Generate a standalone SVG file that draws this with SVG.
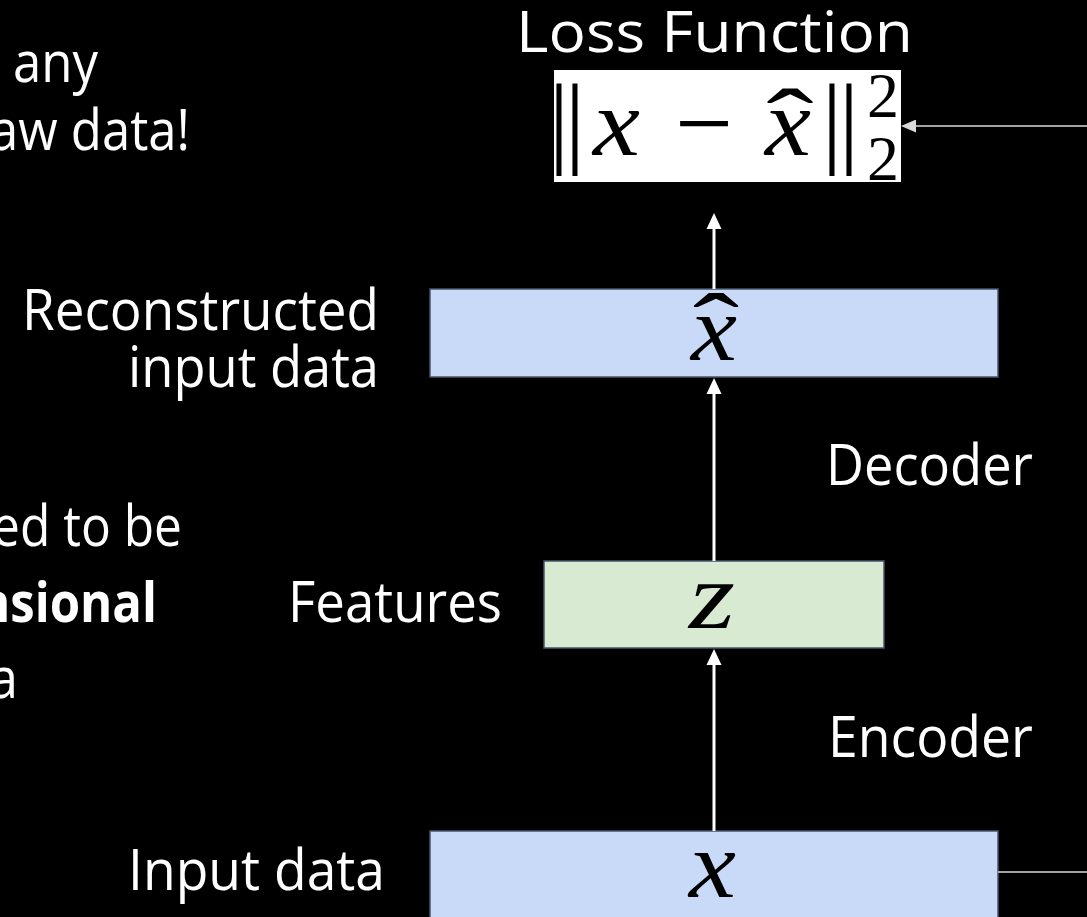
<svg xmlns="http://www.w3.org/2000/svg" width="1087" height="917" viewBox="0 0 1087 917">
  <defs>
    <style>
      .lbl { font-family: "Open Sans", "Liberation Sans", sans-serif; font-size: 56px; fill: #ffffff; }
      .bold { font-weight: bold; }
      .math { font-family: "Liberation Serif", "DejaVu Serif", serif; font-style: italic; fill: #000000; }
      .mrm { font-family: "Liberation Serif", "DejaVu Serif", serif; fill: #000000; }
      .box { stroke: #46556b; stroke-width: 1.5; }
      .blue { fill: #c9daf8; }
      .green { fill: #d9ead3; }
      .flow { stroke: #ffffff; stroke-width: 3; fill: none; }
      .thin { stroke: #d9d9d9; stroke-width: 1.5; fill: none; }
    </style>
    <marker id="head" markerUnits="userSpaceOnUse" markerWidth="16" markerHeight="16" refX="0" refY="8" orient="auto">
      <path d="M0,0.5 L16,8 L0,15.5 z" fill="#ffffff"/>
    </marker>
    <marker id="headThin" markerUnits="userSpaceOnUse" markerWidth="15" markerHeight="13" refX="0" refY="6.5" orient="auto">
      <path d="M0,0 L15,6.5 L0,13 z" fill="#d9d9d9"/>
    </marker>
    <clipPath id="formulaClip">
      <rect x="554" y="70" width="347" height="112"/>
    </clipPath>
  </defs>

  <rect width="1087" height="917" fill="#000000"/>

  <!-- side notes running off the left edge -->
  <g id="side-notes">
    <text class="lbl" x="13" y="82" textLength="85" lengthAdjust="spacingAndGlyphs">any</text>
    <text class="lbl" x="190" y="150" text-anchor="end" textLength="200" lengthAdjust="spacingAndGlyphs">aw data!</text>
    <text class="lbl" x="182" y="546" text-anchor="end" textLength="190" lengthAdjust="spacingAndGlyphs">ed to be</text>
    <text class="lbl bold" x="157" y="622" text-anchor="end" textLength="179" lengthAdjust="spacingAndGlyphs">nsional</text>
    <text class="lbl" x="18" y="698" text-anchor="end" textLength="29" lengthAdjust="spacingAndGlyphs">a</text>
  </g>

  <!-- loss function -->
  <g id="loss">
    <text class="lbl" x="516" y="52" font-size="63" textLength="397" lengthAdjust="spacingAndGlyphs">Loss Function</text>
    <rect x="554" y="70" width="347" height="112" fill="#ffffff"/>
    <g clip-path="url(#formulaClip)">
      <text class="mrm" x="559" y="154" font-size="102" text-anchor="middle">|</text>
      <text class="mrm" x="575" y="154" font-size="102" text-anchor="middle">|</text>
      <text class="math" x="593" y="155" font-size="95" textLength="47" lengthAdjust="spacingAndGlyphs">x</text>
      <text class="mrm" x="704" y="158" font-size="103" text-anchor="middle" textLength="58" lengthAdjust="spacingAndGlyphs">−</text>
      <text class="math" x="765" y="155" font-size="95" textLength="46" lengthAdjust="spacingAndGlyphs">x</text>
      <text class="mrm" transform="translate(790,155) scale(1.5,1)" font-size="95" text-anchor="middle">ˆ</text>
      <text class="mrm" x="832" y="154" font-size="102" text-anchor="middle">|</text>
      <text class="mrm" x="849" y="154" font-size="102" text-anchor="middle">|</text>
      <text class="mrm" x="883" y="117" font-size="64" text-anchor="middle">2</text>
      <text class="mrm" x="883" y="180" font-size="64" text-anchor="middle">2</text>
    </g>
  </g>

  <!-- reconstruction layer -->
  <g id="reconstructed">
    <rect class="box blue" x="430" y="289" width="568" height="88"/>
    <text class="math" x="691" y="360" font-size="93" textLength="46" lengthAdjust="spacingAndGlyphs">x</text>
    <text class="mrm" transform="translate(716,358) scale(1.5,1)" font-size="93" text-anchor="middle">ˆ</text>
    <text class="lbl" x="22" y="330" textLength="357" lengthAdjust="spacingAndGlyphs">Reconstructed</text>
    <text class="lbl" x="128" y="387" textLength="251" lengthAdjust="spacingAndGlyphs">input data</text>
  </g>

  <!-- latent features -->
  <g id="features">
    <rect class="box green" x="544" y="561" width="340" height="87"/>
    <text class="math" x="689" y="628" font-size="95" textLength="46" lengthAdjust="spacingAndGlyphs">z</text>
    <text class="lbl" x="288" y="622" textLength="214" lengthAdjust="spacingAndGlyphs">Features</text>
  </g>

  <!-- input layer -->
  <g id="input">
    <rect class="box blue" x="430" y="831" width="568" height="100"/>
    <text class="math" x="689" y="897" font-size="95" textLength="47" lengthAdjust="spacingAndGlyphs">x</text>
    <text class="lbl" x="128" y="890" textLength="257" lengthAdjust="spacingAndGlyphs">Input data</text>
  </g>

  <!-- stage labels -->
  <g id="stage-labels">
    <text class="lbl" x="826" y="485" textLength="207" lengthAdjust="spacingAndGlyphs">Decoder</text>
    <text class="lbl" x="828" y="757" textLength="205" lengthAdjust="spacingAndGlyphs">Encoder</text>
  </g>

  <!-- connectors -->
  <g id="connectors">
    <line class="flow" x1="714" y1="831" x2="714" y2="665" marker-end="url(#head)"/>
    <line class="flow" x1="714" y1="561" x2="714" y2="394" marker-end="url(#head)"/>
    <line class="flow" x1="714" y1="289" x2="714" y2="229" marker-end="url(#head)"/>
    <line class="thin" x1="998" y1="872" x2="1087" y2="872"/>
    <line class="thin" x1="1087" y1="126" x2="916" y2="126" marker-end="url(#headThin)"/>
  </g>
</svg>
